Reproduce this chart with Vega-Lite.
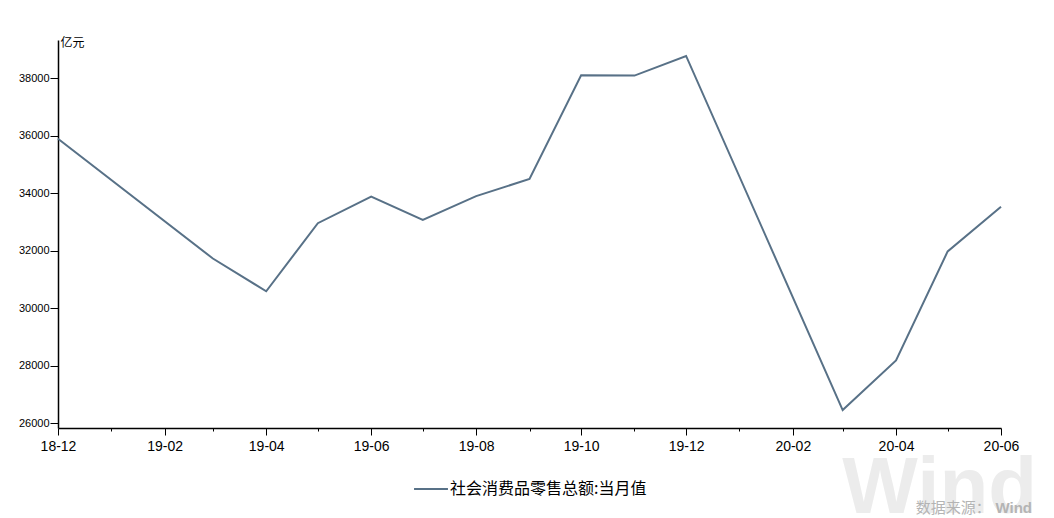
{
  "$schema": "https://vega.github.io/schema/vega-lite/v6.json",
  "width": 943,
  "height": 388,
  "autosize": {"type": "none"},
  "padding": {"left": 58, "top": 40, "right": 53, "bottom": 90},
  "background": "white",
  "config": {
    "view": {"stroke": null},
    "font": "Liberation Sans, Noto Sans CJK SC, sans-serif"
  },
  "layer": [
    {
      "data": {"values": [{"label": "Wind"}]},
      "mark": {"type": "text", "align": "right", "baseline": "alphabetic", "fontSize": 80, "fontWeight": "bold", "color": "#ececec", "font": "Liberation Sans"},
      "encoding": {
        "text": {"field": "label"},
        "x": {"datum": {"year": 2020, "month": 6, "date": 22, "utc": true}, "type": "temporal"},
        "y": {"datum": 22880, "type": "quantitative"}
      }
    },
    {
      "data": {"values": [{"label": "数据来源："}]},
      "mark": {"type": "text", "align": "right", "baseline": "middle", "fontSize": 15, "color": "#b4b4b4", "font": "Noto Sans CJK SC"},
      "encoding": {
        "text": {"field": "label"},
        "x": {"datum": {"year": 2020, "month": 5, "date": 26, "utc": true}, "type": "temporal"},
        "y": {"datum": 23054, "type": "quantitative"}
      }
    },
    {
      "data": {"values": [{"label": "Wind"}]},
      "mark": {"type": "text", "align": "right", "baseline": "middle", "fontSize": 15, "fontWeight": "bold", "color": "#b4b4b4", "font": "Liberation Sans"},
      "encoding": {
        "text": {"field": "label"},
        "x": {"datum": {"year": 2020, "month": 6, "date": 19, "utc": true}, "type": "temporal"},
        "y": {"datum": 23054, "type": "quantitative"}
      }
    },
    {
      "data": {
        "values": [
          {"date": "2018-12-01", "value": 35893, "series": "社会消费品零售总额:当月值"},
          {"date": "2019-03-01", "value": 31726, "series": "社会消费品零售总额:当月值"},
          {"date": "2019-04-01", "value": 30586, "series": "社会消费品零售总额:当月值"},
          {"date": "2019-05-01", "value": 32956, "series": "社会消费品零售总额:当月值"},
          {"date": "2019-06-01", "value": 33878, "series": "社会消费品零售总额:当月值"},
          {"date": "2019-07-01", "value": 33073, "series": "社会消费品零售总额:当月值"},
          {"date": "2019-08-01", "value": 33896, "series": "社会消费品零售总额:当月值"},
          {"date": "2019-09-01", "value": 34495, "series": "社会消费品零售总额:当月值"},
          {"date": "2019-10-01", "value": 38104, "series": "社会消费品零售总额:当月值"},
          {"date": "2019-11-01", "value": 38094, "series": "社会消费品零售总额:当月值"},
          {"date": "2019-12-01", "value": 38777, "series": "社会消费品零售总额:当月值"},
          {"date": "2020-03-01", "value": 26450, "series": "社会消费品零售总额:当月值"},
          {"date": "2020-04-01", "value": 28178, "series": "社会消费品零售总额:当月值"},
          {"date": "2020-05-01", "value": 31973, "series": "社会消费品零售总额:当月值"},
          {"date": "2020-06-01", "value": 33526, "series": "社会消费品零售总额:当月值"}
        ]
      },
      "mark": {"type": "line", "strokeWidth": 2, "clip": false},
      "encoding": {
        "x": {
          "field": "date",
          "type": "temporal",
          "scale": {"type": "utc", "domain": [{"year": 2018, "month": 12, "date": 1, "utc": true}, {"year": 2020, "month": 6, "date": 1, "utc": true}], "nice": false},
          "axis": {
            "title": null,
            "grid": false,
            "tickCount": {"interval": "month", "step": 1},
            "labelExpr": "utcmonth(datum.value) % 2 == 1 ? utcFormat(datum.value, '%y-%m') : ''",
            "labelOverlap": false,
            "labelFlush": false,
            "labelFontSize": 14,
            "labelColor": "#000",
            "labelPadding": 4,
            "tickSize": {"condition": {"test": "utcmonth(datum.value) % 2 == 1", "value": 7}, "value": 3},
            "tickColor": "#000",
            "domainColor": "#000",
            "domainWidth": 1.5
          }
        },
        "y": {
          "field": "value",
          "type": "quantitative",
          "scale": {"domain": [25826, 39332], "nice": false, "zero": false},
          "axis": {
            "title": "亿元",
            "titleAngle": 0,
            "titleX": 2,
            "titleY": 2,
            "titleAlign": "left",
            "titleBaseline": "middle",
            "titleFontSize": 12,
            "titleFontWeight": "normal",
            "titleColor": "#000",
            "titleFont": "Noto Sans CJK SC",
            "grid": false,
            "values": [26000, 28000, 30000, 32000, 34000, 36000, 38000],
            "format": "d",
            "labelFontSize": 11,
            "labelColor": "#000",
            "labelPadding": 1,
            "tickSize": 8,
            "tickColor": "#000",
            "domainColor": "#000",
            "domainWidth": 1.5
          }
        },
        "color": {
          "field": "series",
          "type": "nominal",
          "scale": {"range": ["#587187"]},
          "legend": {
            "title": null,
            "orient": "none",
            "legendX": 355,
            "legendY": 431,
            "symbolType": "stroke",
            "symbolSize": 1150,
            "symbolStrokeWidth": 2,
            "labelFontSize": 16,
            "labelLimit": 0,
            "labelColor": "#000",
            "labelOffset": 1,
            "labelFont": "Noto Sans CJK SC"
          }
        }
      }
    }
  ]
}
